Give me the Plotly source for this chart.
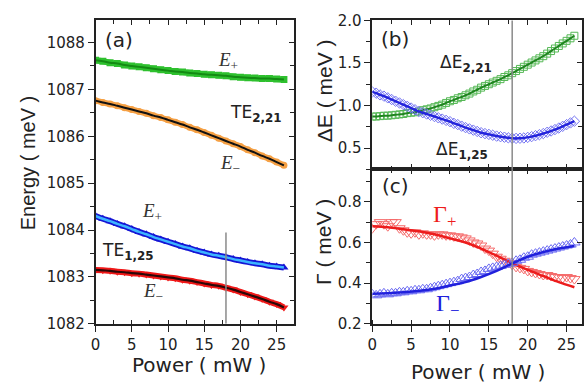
import plotly.graph_objects as go

W, H = 584, 391


def px(x):
    return x / W


def py(y):
    return 1 - y / H


# ---------------- data ----------------
# panel (a): mode energies vs pump power
power_a = [0, 1, 2, 3, 4, 5, 6, 7, 8, 9, 10, 11, 12, 13, 14, 15, 16, 17, 18,
           19, 20, 21, 22, 23, 24, 25, 26]
e_plus_221 = [1087.62, 1087.60, 1087.57, 1087.55, 1087.52, 1087.50, 1087.48,
              1087.46, 1087.44, 1087.42, 1087.40, 1087.38, 1087.37, 1087.35,
              1087.34, 1087.32, 1087.31, 1087.30, 1087.29, 1087.27, 1087.26,
              1087.25, 1087.24, 1087.23, 1087.23, 1087.22, 1087.21]
e_minus_221 = [1086.76, 1086.72, 1086.69, 1086.65, 1086.61, 1086.57, 1086.53,
               1086.49, 1086.44, 1086.40, 1086.35, 1086.30, 1086.25, 1086.19,
               1086.14, 1086.08, 1086.02, 1085.96, 1085.90, 1085.84, 1085.78,
               1085.71, 1085.65, 1085.58, 1085.52, 1085.45, 1085.38]
e_plus_125 = [1084.30, 1084.24, 1084.19, 1084.13, 1084.08, 1084.02, 1083.96,
              1083.91, 1083.85, 1083.80, 1083.75, 1083.70, 1083.65, 1083.61,
              1083.56, 1083.52, 1083.48, 1083.45, 1083.42, 1083.38, 1083.35,
              1083.32, 1083.29, 1083.27, 1083.24, 1083.22, 1083.20]
e_minus_125 = [1083.15, 1083.14, 1083.13, 1083.11, 1083.10, 1083.08, 1083.07,
               1083.05, 1083.03, 1083.01, 1082.99, 1082.97, 1082.94, 1082.92,
               1082.89, 1082.86, 1082.83, 1082.81, 1082.77, 1082.73, 1082.68,
               1082.63, 1082.58, 1082.53, 1082.47, 1082.42, 1082.35]

# panels (b), (c): sampled every 0.5 mW
power_bc = [k / 2 for k in range(53)]
delta_e_221 = [0.87, 0.87, 0.875, 0.88, 0.88, 0.885, 0.89, 0.895, 0.90, 0.91,
               0.915, 0.92, 0.93, 0.945, 0.955, 0.965, 0.98, 0.995, 1.01, 1.03,
               1.05, 1.065, 1.085, 1.10, 1.12, 1.14, 1.165, 1.185, 1.21, 1.23,
               1.25, 1.27, 1.29, 1.31, 1.335, 1.355, 1.38, 1.405, 1.43, 1.455,
               1.48, 1.505, 1.53, 1.555, 1.58, 1.61, 1.64, 1.67, 1.70, 1.73,
               1.76, 1.79, 1.82]
delta_e_125 = [1.16, 1.145, 1.125, 1.11, 1.09, 1.07, 1.05, 1.03, 1.01, 0.99,
               0.97, 0.95, 0.93, 0.915, 0.90, 0.885, 0.87, 0.855, 0.84, 0.825,
               0.81, 0.79, 0.775, 0.757, 0.74, 0.725, 0.71, 0.695, 0.68, 0.67,
               0.66, 0.65, 0.64, 0.633, 0.627, 0.62, 0.615, 0.613, 0.615,
               0.618, 0.625, 0.634, 0.645, 0.657, 0.67, 0.685, 0.70, 0.717,
               0.735, 0.755, 0.775, 0.795, 0.815]
gamma_plus = [0.67, 0.69, 0.70, 0.69, 0.68, 0.70, 0.70, 0.67, 0.66, 0.65,
              0.645, 0.65, 0.64, 0.645, 0.64, 0.64, 0.635, 0.64, 0.64, 0.635,
              0.635, 0.63, 0.63, 0.625, 0.62, 0.61, 0.60, 0.595, 0.585, 0.57,
              0.56, 0.545, 0.53, 0.52, 0.51, 0.50, 0.49, 0.48, 0.475, 0.47,
              0.46, 0.455, 0.45, 0.445, 0.44, 0.44, 0.435, 0.43, 0.43, 0.425,
              0.43, 0.425, 0.42]
gamma_minus = [0.345, 0.34, 0.345, 0.35, 0.345, 0.35, 0.35, 0.355, 0.355, 0.36,
               0.36, 0.365, 0.365, 0.37, 0.37, 0.375, 0.38, 0.385, 0.39, 0.395,
               0.40, 0.405, 0.41, 0.42, 0.425, 0.43, 0.44, 0.445, 0.455, 0.46,
               0.47, 0.475, 0.48, 0.485, 0.49, 0.495, 0.50, 0.51, 0.515, 0.525,
               0.53, 0.54, 0.545, 0.55, 0.555, 0.56, 0.565, 0.57, 0.575, 0.58,
               0.585, 0.59, 0.60]

# fitted curves for panel (c)
fit_power = [0, 2, 4, 6, 8, 10, 12, 14, 16, 18, 20, 22, 24, 26]
gamma_plus_fit = [0.68, 0.675, 0.665, 0.655, 0.64, 0.62, 0.60, 0.57, 0.535,
                  0.497, 0.465, 0.435, 0.405, 0.38]
gamma_minus_fit = [0.348, 0.35, 0.355, 0.362, 0.372, 0.388, 0.405, 0.43, 0.46,
                   0.497, 0.53, 0.553, 0.57, 0.583]

cross_power = 18          # crossing power (gray line)
cross_line_top_a = 1083.95  # top of the gray marker in panel (a)

x_tick_vals = [0, 5, 10, 15, 20, 25]

# ---------------- styling ----------------
INK = "#222222"
TICKFONT = dict(family="DejaVu Sans", size=15, color=INK)

fig = go.Figure()


def add_markers(x, y, xa, ya, symbol, color, size, open_=False, lw=1):
    if open_:
        marker = dict(symbol=symbol + "-open", size=size, color=color,
                      line=dict(width=lw, color=color))
    else:
        marker = dict(symbol=symbol, size=size, color=color,
                      line=dict(width=0))
    fig.add_trace(go.Scatter(x=x, y=y, mode="markers", marker=marker,
                             xaxis=xa, yaxis=ya, showlegend=False,
                             hoverinfo="skip"))


def add_line(x, y, xa, ya, color, width):
    fig.add_trace(go.Scatter(x=x, y=y, mode="lines",
                             line=dict(color=color, width=width, shape="spline"),
                             xaxis=xa, yaxis=ya, showlegend=False,
                             hoverinfo="skip"))


# panel (a): dense data band + fitted line
add_line(power_a, e_plus_221, "x", "y", "#2ec02e", 6)
add_markers(power_a, e_plus_221, "x", "y", "square", "#2ec02e", 7)
add_line(power_a, e_plus_221, "x", "y", "#138a13", 2)
add_line(power_a, e_minus_221, "x", "y", "#f5a044", 6)
add_markers(power_a, e_minus_221, "x", "y", "circle", "#f5a044", 7)
add_line(power_a, e_minus_221, "x", "y", "#111111", 2)
add_line(power_a, e_plus_125, "x", "y", "#1515d5", 6)
add_markers(power_a, e_plus_125, "x", "y", "triangle-up", "#1515d5", 8)
add_line(power_a, e_plus_125, "x", "y", "#3cb4ff", 2.5)
add_line(power_a, e_minus_125, "x", "y", "#f01818", 6)
add_markers(power_a, e_minus_125, "x", "y", "triangle-down", "#f01818", 8)
add_line(power_a, e_minus_125, "x", "y", "#2a0808", 2.2)

# panel (b)
add_markers(power_bc, delta_e_221, "x2", "y2", "square", "#55b855", 7, True)
add_line(power_bc, delta_e_221, "x2", "y2", "#1f861f", 2)
add_markers(power_bc, delta_e_125, "x2", "y2", "diamond", "#7272f2", 8, True)
add_line(power_bc, delta_e_125, "x2", "y2", "#2424dc", 2.5)

# panel (c)
add_markers(power_bc, gamma_plus, "x3", "y3", "triangle-down", "#f56a6a", 10, True)
add_line(fit_power, gamma_plus_fit, "x3", "y3", "#ec1c1c", 2.5)
add_markers(power_bc, gamma_minus, "x3", "y3", "triangle-up", "#6a6af2", 10, True)
add_line(fit_power, gamma_minus_fit, "x3", "y3", "#2020dc", 2.5)

# empty traces that carry the mirrored (inward) tick axes
for xa, ya in (("x4", "y4"), ("x5", "y5"), ("x6", "y6")):
    fig.add_trace(go.Scatter(x=[], y=[], xaxis=xa, yaxis=ya,
                             showlegend=False, hoverinfo="skip"))

# ---------------- geometry ----------------
A_X = [px(91.7), px(293)]
A_Y = [py(330), py(12)]
BC_X = [px(371.7), 1.0]
B_Y = [py(168), py(12)]
C_Y = [py(330), py(168)]

X_RANGE_A = [0, 27.46]
X_RANGE_BC = [0, 26.98]
Y_RANGE_A = [1082, 1088.47]
Y_RANGE_B = [0.25, 2.0]
Y_RANGE_C = [0.2, 0.96]

common = dict(showgrid=False, zeroline=False, showline=True, linecolor=INK,
              linewidth=1.5, tickcolor=INK, tickwidth=1.3, tickfont=TICKFONT)


def main_x(domain, rng, anchor, labels=True, ticks="outside"):
    return dict(common, domain=domain, range=rng, anchor=anchor,
                tickvals=x_tick_vals, ticks=ticks, ticklen=6,
                showticklabels=labels, mirror=True,
                minor=dict(dtick=2.5, tick0=0, ticks="inside", ticklen=4,
                           tickcolor=INK, tickwidth=1.1))


def main_y(domain, rng, anchor, dtick, minor, fmt=None):
    d = dict(common, domain=domain, range=rng, anchor=anchor,
             dtick=dtick, tick0=0, ticks="outside", ticklen=6,
             mirror=True,
             minor=dict(dtick=minor, ticks="outside", ticklen=4,
                        tickcolor=INK, tickwidth=1.1))
    if fmt:
        d["tickformat"] = fmt
    return d


def mirror_x(over, rng, anchor):
    return dict(overlaying=over, side="top", anchor=anchor, range=rng,
                showgrid=False, zeroline=False, showline=False,
                tickvals=x_tick_vals, ticks="inside", ticklen=5,
                tickcolor=INK, tickwidth=1.3, showticklabels=False,
                minor=dict(dtick=2.5, tick0=0, ticks="inside", ticklen=4,
                           tickcolor=INK, tickwidth=1.1))


def mirror_y(over, rng, anchor, dtick, minor):
    return dict(overlaying=over, side="right", anchor=anchor, range=rng,
                showgrid=False, zeroline=False, showline=False,
                dtick=dtick, tick0=0, ticks="inside", ticklen=5,
                tickcolor=INK, tickwidth=1.3, showticklabels=False,
                minor=dict(dtick=minor, ticks="inside", ticklen=4,
                           tickcolor=INK, tickwidth=1.1))


layout = dict(
    width=W, height=H, margin=dict(l=0, r=0, t=0, b=0),
    paper_bgcolor="white", plot_bgcolor="white",
    font=dict(family="DejaVu Sans", color=INK),
    xaxis=main_x(A_X, X_RANGE_A, "y"),
    yaxis=main_y(A_Y, Y_RANGE_A, "x", 1, 0.5),
    xaxis2=main_x(BC_X, X_RANGE_BC, "y2", labels=False, ticks="inside"),
    yaxis2=main_y(B_Y, Y_RANGE_B, "x2", 0.5, 0.25, ".1f"),
    xaxis3=main_x(BC_X, X_RANGE_BC, "y3"),
    yaxis3=main_y(C_Y, Y_RANGE_C, "x3", 0.2, 0.1, ".1f"),
    xaxis4=mirror_x("x", X_RANGE_A, "y4"),
    yaxis4=mirror_y("y", Y_RANGE_A, "x4", 1, 0.5),
    xaxis5=mirror_x("x2", X_RANGE_BC, "y5"),
    yaxis5=mirror_y("y2", Y_RANGE_B, "x5", 0.5, 0.25),
    xaxis6=mirror_x("x3", X_RANGE_BC, "y6"),
    yaxis6=mirror_y("y3", Y_RANGE_C, "x6", 0.2, 0.1),
)
fig.update_layout(**layout)

# gray vertical markers at the crossing power
GRAY = "#8a8a8a"
fig.add_shape(type="line", xref="x", yref="y", x0=cross_power, x1=cross_power,
              y0=Y_RANGE_A[0], y1=cross_line_top_a, line=dict(color=GRAY, width=1.5))
fig.add_shape(type="line", xref="x2", yref="y2 domain", x0=cross_power,
              x1=cross_power, y0=0, y1=1, line=dict(color=GRAY, width=1.5))
fig.add_shape(type="line", xref="x3", yref="y3 domain", x0=cross_power,
              x1=cross_power, y0=0, y1=1, line=dict(color=GRAY, width=1.5))

SERIF = "Liberation Serif"


def note(x, y, text, size=17, family="DejaVu Sans", color=INK, angle=0):
    fig.add_annotation(x=px(x), y=py(y), xref="paper", yref="paper",
                       text=text, showarrow=False, textangle=angle,
                       xanchor="center", yanchor="middle",
                       font=dict(size=size, family=family, color=color))


# panel labels
note(115, 32, "(a)", size=20)
note(395, 31, "(b)", size=20)
note(395, 186, "(c)", size=20)

# panel (a) labels
note(226, 55, "<i>E</i><sub>+</sub>", size=19, family=SERIF, color="#333333")
note(254, 110, "TE<sub><b>2,21</b></sub>", size=17)
note(228, 162, "<i>E</i><sub>−</sub>", size=19, family=SERIF, color="#333333")
note(149, 213, "<i>E</i><sub>+</sub>", size=19, family=SERIF, color="#333333")
note(124, 254, "TE<sub><b>1,25</b></sub>", size=17)
note(150, 297, "<i>E</i><sub>−</sub>", size=19, family=SERIF, color="#333333")

# panel (b) labels
note(467, 57, "ΔE<sub><b>2,21</b></sub>", size=17)
note(463, 148, "ΔE<sub><b>1,25</b></sub>", size=17)

# panel (c) labels
note(445, 217, "Γ<sub>+</sub>", size=24, family=SERIF, color="#ee1c1c")
note(448, 310, "Γ<sub>−</sub>", size=24, family=SERIF, color="#2020dc")

# axis titles
note(23, 162, "Energy ( meV )", size=20, family="Liberation Sans", angle=-90)
note(323, 86, "ΔE ( meV )", size=21, family="Liberation Sans", angle=-90)
note(323, 244, "Γ ( meV )", size=21, family="Liberation Sans", angle=-90)
note(196, 373, "Power ( mW )", size=20)
note(479, 380, "Power ( mW )", size=20)

fig.write_html("out.html")
